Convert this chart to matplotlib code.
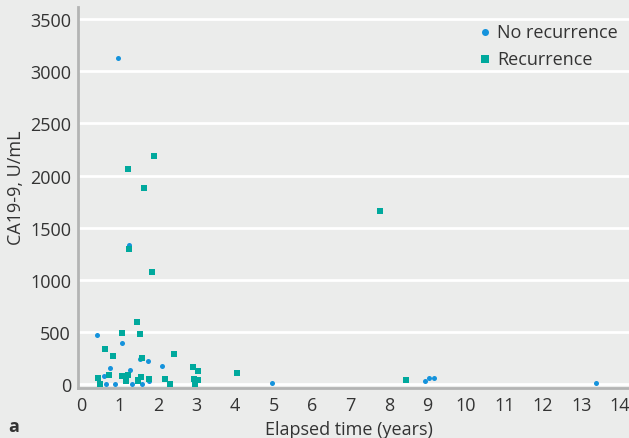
import matplotlib
matplotlib.use("Agg")
import matplotlib.pyplot as plt

# No recurrence (circles)
norec_x = [0.41, 1.06, 0.61, 0.75, 0.65, 0.88, 1.27, 1.53, 1.73, 2.10, 1.33, 1.58, 1.77,
           0.96, 1.24, 4.96, 8.92, 9.04, 9.17, 13.38]
norec_y = [469, 390, 73, 150, 0, 2, 133, 239, 220, 175, 0, 0, 25,
           3131, 1333, 5, 25, 54, 54, 5]

# Recurrence (squares)
rec_x = [1.45, 1.06, 1.53, 0.62, 0.82, 2.41, 1.58, 0.43, 0.49, 0.72, 1.07, 1.22, 1.16,
         1.55, 1.47, 1.49, 1.76, 2.17, 2.31, 2.91, 3.04, 2.93, 3.04, 2.95, 4.05,
         1.90, 1.21, 1.64, 1.25, 1.84, 7.77, 8.44]
rec_y = [597, 491, 482, 338, 271, 290, 252, 57, 2, 85, 76, 85, 25,
         63, 25, 35, 47, 50, 2, 165, 127, 50, 40, 2, 105,
         2190, 2062, 1880, 1298, 1074, 1659, 40]

xticks = list(range(0, 15))
yticks = [0, 500, 1000, 1500, 2000, 2500, 3000, 3500]

plt.rcParams['font.family'] = ['Open Sans', 'DejaVu Sans']
bg = '#ebeceb'
txt = '#333333'

fig = plt.figure(figsize=(6.29, 4.39), dpi=100, facecolor=bg)
ax = fig.add_axes([78/629, 1 - 389/439, 1 - 78/629, (389 - 8)/439])
ax.set_facecolor(bg)

ax.scatter(norec_x, norec_y, marker='o', s=13, color='#1593dc', linewidths=0,
           label='No recurrence', zorder=3)
ax.scatter(rec_x, rec_y, marker='s', s=19, color='#00a99d', linewidths=0,
           label='Recurrence', zorder=3)

ax.set_xlim(-0.078, 14.23)
ax.set_ylim(-39, 3617)
ax.set_xticks(xticks)
ax.set_yticks(yticks)
ax.tick_params(axis='both', length=0, labelsize=13, colors=txt)
ax.tick_params(axis='y', pad=5)
ax.tick_params(axis='x', pad=6)
ax.yaxis.grid(True, color='white', linewidth=2)
ax.xaxis.grid(False)
ax.set_axisbelow(True)
for s in ['top', 'right']:
    ax.spines[s].set_visible(False)
for s in ['left', 'bottom']:
    ax.spines[s].set_color('#b3b4b4')
    ax.spines[s].set_linewidth(2)

ax.set_xlabel('Elapsed time (years)', fontsize=13, color=txt)
ax.set_ylabel('CA19-9, U/mL', fontsize=13, color=txt)
ax.xaxis.set_label_coords((349 - 78)/(629 - 78), (389 - 421)/381)
ax.yaxis.set_label_coords((25 - 78)/(629 - 78), (389 - 188)/381)

leg = ax.legend(loc='upper right', bbox_to_anchor=(1.0, (389 - 13)/381), frameon=False,
                fontsize=13, handlelength=1.0, handletextpad=0.2, labelspacing=0.5,
                markerscale=1.4, borderaxespad=0.2)
for t in leg.get_texts():
    t.set_color(txt)

fig.text(14/629, 1 - 427/439, 'a', fontsize=13, fontweight='bold', color=txt,
         ha='center', va='center')

fig.savefig('out.png', dpi=100, facecolor=bg)
